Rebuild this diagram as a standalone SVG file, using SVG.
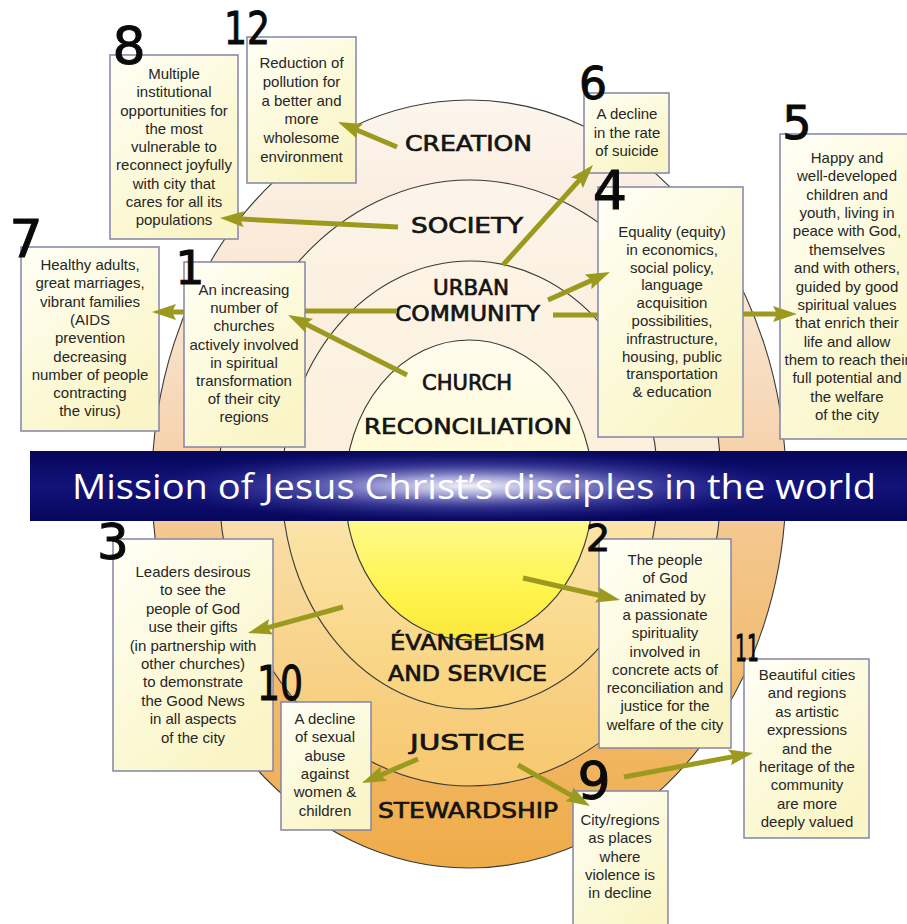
<svg xmlns="http://www.w3.org/2000/svg" width="907" height="924" viewBox="0 0 907 924">
<defs>
<style>
.ring{stroke:#3a3a3a;stroke-width:1.1}
.bx{fill:url(#boxg);stroke:#8484a8;stroke-width:1.5}
.bt{font-family:"Liberation Sans",Arial,sans-serif;font-size:15px;fill:#262626;text-anchor:middle}
.rl{font-family:"DejaVu Sans",sans-serif;font-size:21px;fill:#141414;stroke:#141414;stroke-width:0.7}
.num{font-family:"DejaVu Sans",sans-serif;fill:#0a0a0a;stroke:#0a0a0a;stroke-width:1;text-anchor:middle}
.conn{fill:none;stroke:#9c9a1e;stroke-width:5;marker-end:url(#ah)}
</style>
<marker id="ah" markerUnits="userSpaceOnUse" markerWidth="26" markerHeight="18" refX="8" refY="9" orient="auto">
<path d="M0,1 L24,9 L0,17 L4,9 z" fill="#9c9a1e"/>
</marker>
<linearGradient id="boxg" x1="0" y1="0" x2="0.6" y2="1">
<stop offset="0" stop-color="#fffff6"/>
<stop offset="1" stop-color="#faf5c6"/>
</linearGradient>
<linearGradient id="g4" x1="0" y1="0" x2="0" y2="1">
<stop offset="0" stop-color="#fcf6ee"/>
<stop offset="0.25" stop-color="#f9e6d2"/>
<stop offset="0.42" stop-color="#f6d6b4"/>
<stop offset="0.58" stop-color="#f4c68c"/>
<stop offset="1" stop-color="#efac48"/>
</linearGradient>
<linearGradient id="g3" x1="0" y1="0" x2="0" y2="1">
<stop offset="0" stop-color="#fcf5ea"/>
<stop offset="0.45" stop-color="#faebd6"/>
<stop offset="0.6" stop-color="#f9dca4"/>
<stop offset="1" stop-color="#f7c86e"/>
</linearGradient>
<linearGradient id="g2" x1="0" y1="0" x2="0" y2="1">
<stop offset="0" stop-color="#fcf4e6"/>
<stop offset="0.45" stop-color="#fcf0dc"/>
<stop offset="0.62" stop-color="#fbe2a2"/>
<stop offset="1" stop-color="#f9d27c"/>
</linearGradient>
<linearGradient id="g1" x1="0" y1="0" x2="0" y2="1">
<stop offset="0" stop-color="#fffcef"/>
<stop offset="0.4" stop-color="#fffbd8"/>
<stop offset="0.62" stop-color="#fff986"/>
<stop offset="0.85" stop-color="#fff44a"/>
<stop offset="1" stop-color="#fce63e"/>
</linearGradient>
<linearGradient id="bang" x1="0" y1="0" x2="0" y2="1">
<stop offset="0" stop-color="#06065a"/>
<stop offset="0.5" stop-color="#12127a"/>
<stop offset="1" stop-color="#06065a"/>
</linearGradient>
<radialGradient id="glow" cx="0.5" cy="0.5" r="0.5">
<stop offset="0" stop-color="#ffffff" stop-opacity="0.95"/>
<stop offset="0.25" stop-color="#c8c8f0" stop-opacity="0.8"/>
<stop offset="0.6" stop-color="#6262c0" stop-opacity="0.45"/>
<stop offset="1" stop-color="#2a2a96" stop-opacity="0"/>
</radialGradient>
</defs>

<rect width="907" height="924" fill="#ffffff"/>

<g id="rings">
<ellipse class="ring" cx="469" cy="484" rx="317" ry="384" fill="url(#g4)"/>
<ellipse class="ring" cx="470" cy="483" rx="251" ry="303" fill="url(#g3)"/>
<ellipse class="ring" cx="470" cy="485" rx="188" ry="224" fill="url(#g2)"/>
<ellipse class="ring" cx="469" cy="490" rx="124" ry="150" fill="url(#g1)"/>
</g>

<g id="banner">
<rect x="30" y="451" width="877" height="70" fill="url(#bang)"/>
<ellipse cx="470" cy="486" rx="330" ry="36" fill="url(#glow)"/>
<text x="72" y="499" textLength="804" lengthAdjust="spacingAndGlyphs" font-family="'Open Sans','DejaVu Sans',sans-serif" font-size="34" fill="#ffffff">Mission of Jesus Christ’s disciples in the world</text>
</g>

<g id="ring-labels">
<g id="label-creation"><text class="rl" x="405" y="151" textLength="127" lengthAdjust="spacingAndGlyphs">CREATION</text></g>
<g id="label-society"><text class="rl" x="411" y="233" textLength="112" lengthAdjust="spacingAndGlyphs">SOCIETY</text></g>
<g id="label-urban-community"><text class="rl" x="433" y="295" textLength="76" lengthAdjust="spacingAndGlyphs">URBAN</text><text class="rl" x="395" y="321" textLength="145" lengthAdjust="spacingAndGlyphs">COMMUNITY</text></g>
<g id="label-church"><text class="rl" x="422" y="390" textLength="90" lengthAdjust="spacingAndGlyphs">CHURCH</text><text class="rl" x="364" y="434" textLength="208" lengthAdjust="spacingAndGlyphs">RECONCILIATION</text></g>
<g id="label-evangelism"><text class="rl" x="390" y="650" textLength="155" lengthAdjust="spacingAndGlyphs">ÉVANGELISM</text><text class="rl" x="388" y="681" textLength="159" lengthAdjust="spacingAndGlyphs">AND SERVICE</text></g>
<g id="label-justice"><text class="rl" x="410" y="750" textLength="115" lengthAdjust="spacingAndGlyphs">JUSTICE</text></g>
<g id="label-stewardship"><text class="rl" x="378" y="818" textLength="180" lengthAdjust="spacingAndGlyphs">STEWARDSHIP</text></g>
</g>

<g id="node-8">
<rect class="bx" x="110" y="55" width="128" height="184"/>
<text class="bt"><tspan x="174" y="79">Multiple</tspan><tspan x="174" y="97.3">institutional</tspan><tspan x="174" y="115.5">opportunities for</tspan><tspan x="174" y="133.8">the most</tspan><tspan x="174" y="152">vulnerable to</tspan><tspan x="174" y="170.3">reconnect joyfully</tspan><tspan x="174" y="188.5">with city that</tspan><tspan x="174" y="206.8">cares for all its</tspan><tspan x="174" y="225">populations</tspan></text>
<text class="num" x="129" y="64" font-size="52">8</text>
</g>

<g id="node-12">
<rect class="bx" x="247" y="37" width="109" height="146"/>
<text class="bt"><tspan x="301.5" y="68">Reduction of</tspan><tspan x="301.5" y="86.8">pollution for</tspan><tspan x="301.5" y="105.6">a better and</tspan><tspan x="301.5" y="124.4">more</tspan><tspan x="301.5" y="143.2">wholesome</tspan><tspan x="301.5" y="162">environment</tspan></text>
<text class="num" x="247" y="44" font-size="44" text-anchor="start" textLength="46" lengthAdjust="spacingAndGlyphs">12</text>
</g>

<g id="node-6">
<rect class="bx" x="584" y="93" width="85" height="80"/>
<text class="bt"><tspan x="627" y="119">A decline</tspan><tspan x="627" y="137.5">in the rate</tspan><tspan x="627" y="156">of suicide</tspan></text>
<text class="num" x="593" y="99" font-size="44">6</text>
</g>

<g id="node-4">
<rect class="bx" x="598" y="187" width="145" height="250"/>
<text class="bt"><tspan x="672" y="237">Equality (equity)</tspan><tspan x="672" y="254.8">in economics,</tspan><tspan x="672" y="272.6">social policy,</tspan><tspan x="672" y="290.4">language</tspan><tspan x="672" y="308.2">acquisition</tspan><tspan x="672" y="326">possibilities,</tspan><tspan x="672" y="343.8">infrastructure,</tspan><tspan x="672" y="361.6">housing, public</tspan><tspan x="672" y="379.4">transportation</tspan><tspan x="672" y="397.2">&amp; education</tspan></text>
<text class="num" x="610" y="209" font-size="54">4</text>
</g>

<g id="node-5">
<rect class="bx" x="780" y="134" width="140" height="305"/>
<text class="bt"><tspan x="847" y="163">Happy and</tspan><tspan x="847" y="181.4">well-developed</tspan><tspan x="847" y="199.7">children and</tspan><tspan x="847" y="218.1">youth, living in</tspan><tspan x="847" y="236.4">peace with God,</tspan><tspan x="847" y="254.8">themselves</tspan><tspan x="847" y="273.2">and with others,</tspan><tspan x="847" y="291.5">guided by good</tspan><tspan x="847" y="309.9">spiritual values</tspan><tspan x="847" y="328.2">that enrich their</tspan><tspan x="847" y="346.6">life and allow</tspan><tspan x="847" y="365">them to reach their</tspan><tspan x="847" y="383.3">full potential and</tspan><tspan x="847" y="401.7">the welfare</tspan><tspan x="847" y="420">of the city</tspan></text>
<text class="num" x="797" y="139" font-size="46">5</text>
</g>

<g id="node-7">
<rect class="bx" x="21" y="247" width="138" height="184"/>
<text class="bt"><tspan x="90" y="270">Healthy adults,</tspan><tspan x="90" y="288.3">great marriages,</tspan><tspan x="90" y="306.6">vibrant families</tspan><tspan x="90" y="324.9">(AIDS</tspan><tspan x="90" y="343.2">prevention</tspan><tspan x="90" y="361.5">decreasing</tspan><tspan x="90" y="379.8">number of people</tspan><tspan x="90" y="398.1">contracting</tspan><tspan x="90" y="416.4">the virus)</tspan></text>
<text class="num" x="26" y="257" font-size="52">7</text>
</g>

<g id="node-1">
<rect class="bx" x="184" y="262" width="121" height="185"/>
<text class="bt"><tspan x="244" y="295">An increasing</tspan><tspan x="244" y="313.2">number of</tspan><tspan x="244" y="331.4">churches</tspan><tspan x="244" y="349.6">actively involved</tspan><tspan x="244" y="367.8">in spiritual</tspan><tspan x="244" y="386">transformation</tspan><tspan x="244" y="404.2">of their city</tspan><tspan x="244" y="422.4">regions</tspan></text>
<text class="num" x="190" y="284" font-size="46">1</text>
</g>

<g id="node-3">
<rect class="bx" x="113" y="539" width="160" height="232"/>
<text class="bt"><tspan x="193" y="577">Leaders desirous</tspan><tspan x="193" y="595.4">to see the</tspan><tspan x="193" y="613.8">people of God</tspan><tspan x="193" y="632.2">use their gifts</tspan><tspan x="193" y="650.6">(in partnership with</tspan><tspan x="193" y="669">other churches)</tspan><tspan x="193" y="687.4">to demonstrate</tspan><tspan x="193" y="705.8">the Good News</tspan><tspan x="193" y="724.2">in all aspects</tspan><tspan x="193" y="742.6">of the city</tspan></text>
<text class="num" x="113" y="559" font-size="50">3</text>
</g>

<g id="node-2">
<rect class="bx" x="599" y="539" width="132" height="209"/>
<text class="bt"><tspan x="665" y="565">The people</tspan><tspan x="665" y="583.3">of God</tspan><tspan x="665" y="601.6">animated by</tspan><tspan x="665" y="619.9">a passionate</tspan><tspan x="665" y="638.2">spirituality</tspan><tspan x="665" y="656.5">involved in</tspan><tspan x="665" y="674.8">concrete acts of</tspan><tspan x="665" y="693.1">reconciliation and</tspan><tspan x="665" y="711.4">justice for the</tspan><tspan x="665" y="729.7">welfare of the city</tspan></text>
<text class="num" x="598" y="551" font-size="38">2</text>
</g>

<g id="node-10">
<rect class="bx" x="281" y="702" width="90" height="128"/>
<text class="bt"><tspan x="325" y="724">A decline</tspan><tspan x="325" y="742.3">of sexual</tspan><tspan x="325" y="760.6">abuse</tspan><tspan x="325" y="778.9">against</tspan><tspan x="325" y="797.2">women &amp;</tspan><tspan x="325" y="815.5">children</tspan></text>
<text class="num" x="280" y="700" font-size="48" text-anchor="start" textLength="46" lengthAdjust="spacingAndGlyphs">10</text>
</g>

<g id="node-11">
<rect class="bx" x="744" y="659" width="125" height="179"/>
<text class="bt"><tspan x="807" y="680">Beautiful cities</tspan><tspan x="807" y="698.4">and regions</tspan><tspan x="807" y="716.8">as artistic</tspan><tspan x="807" y="735.2">expressions</tspan><tspan x="807" y="753.6">and the</tspan><tspan x="807" y="772">heritage of the</tspan><tspan x="807" y="790.4">community</tspan><tspan x="807" y="808.8">are more</tspan><tspan x="807" y="827.2">deeply valued</tspan></text>
<text class="num" x="747" y="661" font-size="38" text-anchor="start" textLength="24" lengthAdjust="spacingAndGlyphs">11</text>
</g>

<g id="node-9">
<rect class="bx" x="573" y="791" width="95" height="150"/>
<text class="bt"><tspan x="620" y="825">City/regions</tspan><tspan x="620" y="843.3">as places</tspan><tspan x="620" y="861.6">where</tspan><tspan x="620" y="879.9">violence is</tspan><tspan x="620" y="898.2">in decline</tspan></text>
</g>

<g id="connectors">
<path class="conn" d="M397,147 L352.7,128.2"/>
<path class="conn" d="M398,227 L236,218.8"/>
<path class="conn" d="M503,265 L582.3,176.9"/>
<path class="conn" d="M548,300 L595.4,278.6"/>
<path class="conn" d="M553,315 L598,315 M743,314 L781,314"/>
<path class="conn" d="M397,311 L305,311 M184,312 L168,312"/>
<path class="conn" d="M407,375 L302.3,322.2"/>
<path class="conn" d="M343,607 L263.4,628.8"/>
<path class="conn" d="M523,578 L604.4,596.5"/>
<path class="conn" d="M418,759 L376.7,776.7"/>
<path class="conn" d="M518,765 L576.1,798.1"/>
<path class="conn" d="M624,777 L737.3,755.9"/>
</g>

<g id="num-9"><text class="num" x="594" y="799" font-size="52">9</text></g>
</svg>
